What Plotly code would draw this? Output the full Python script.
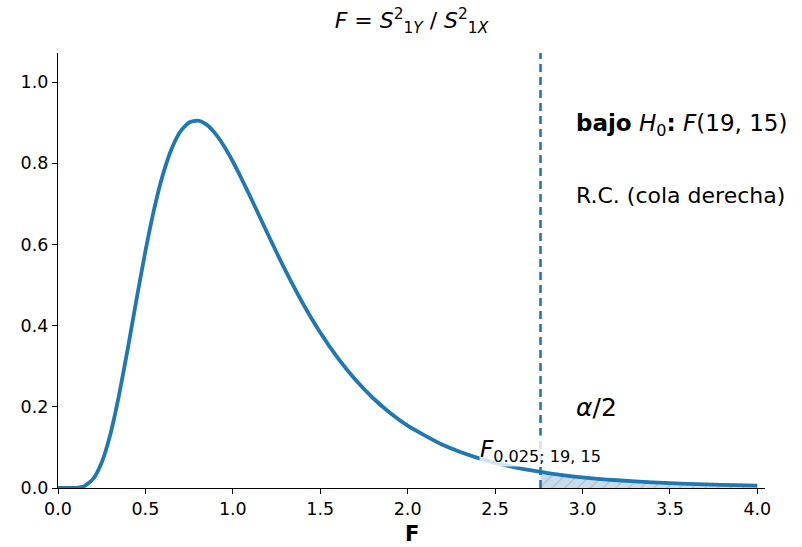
import plotly.graph_objects as go

# F(19, 15) density, sampled along the curve
f_x = [0.0, 0.05, 0.1, 0.15, 0.2, 0.25, 0.3, 0.35, 0.4, 0.45, 0.5, 0.55, 0.6, 0.65,
       0.7, 0.75, 0.8, 0.85, 0.9, 0.95, 1.0, 1.05, 1.1, 1.2, 1.3, 1.4, 1.5, 1.6, 1.7,
       1.8, 1.9, 2.0, 2.2, 2.4, 2.6, 2.76, 2.8, 3.0, 3.2, 3.4, 3.6, 3.8, 4.0]
f_y = [0.0, 0.0, 0.0004, 0.0046, 0.0218, 0.0629, 0.1333, 0.2305, 0.3455, 0.4669,
       0.5836, 0.6874, 0.7723, 0.836, 0.8786, 0.9008, 0.9054, 0.8954, 0.8734, 0.8423,
       0.8046, 0.7621, 0.7178, 0.6258, 0.5368, 0.4553, 0.3830, 0.3205, 0.2672, 0.2224,
       0.1849, 0.1538, 0.1065, 0.0742, 0.0521, 0.0395, 0.0369, 0.0264, 0.0191, 0.0139,
       0.0102, 0.0076, 0.0057]

# Critical value F_{0.025; 19, 15}
f_crit = 2.76

x_ticks = [0.0, 0.5, 1.0, 1.5, 2.0, 2.5, 3.0, 3.5, 4.0]
y_ticks = [0.0, 0.2, 0.4, 0.6, 0.8, 1.0]

blue = "#1f77b4"
font_family = "DejaVu Sans"

tail_x = [x for x in f_x if x >= f_crit]
tail_y = [y for x, y in zip(f_x, f_y) if x >= f_crit]

fig = go.Figure()

# rejection region (right tail), hatched
fig.add_trace(go.Scatter(
    x=[f_crit] + tail_x + [tail_x[-1], f_crit],
    y=[0] + tail_y + [0, 0],
    mode="lines", line=dict(width=0), fill="toself",
    fillcolor="rgba(31,119,180,0.25)",
    fillpattern=dict(shape="/", bgcolor="rgba(31,119,180,0.25)",
                     fgcolor="rgba(90,90,90,0.55)", size=9, solidity=0.12),
    hoverinfo="skip", showlegend=False,
))

# density curve
fig.add_trace(go.Scatter(
    x=f_x, y=f_y, mode="lines", line=dict(color=blue, width=3.8, shape="spline", smoothing=0.6),
    showlegend=False,
))

# critical value marker
fig.add_trace(go.Scatter(
    x=[f_crit, f_crit], y=[0, 1.072], mode="lines",
    line=dict(color=blue, width=2.6, dash="8px,5px"),
    showlegend=False,
))

annot_font = dict(family=font_family, size=22, color="black")
fig.add_annotation(x=2.95, y=0.895, xanchor="left", yanchor="middle", showarrow=False,
                   text="<b>bajo</b> <i>H</i><sub>0</sub><b>:</b> <i>F</i>(19, 15)",
                   font=dict(family=font_family, size=23, color="black"))
fig.add_annotation(x=2.95, y=0.722, xanchor="left", yanchor="middle", showarrow=False,
                   text="R.C. (cola derecha)", font=annot_font)
fig.add_annotation(x=2.95, y=0.199, xanchor="left", yanchor="middle", showarrow=False,
                   text="<i>α</i>/2", font=dict(family=font_family, size=25, color="black"))
fig.add_annotation(x=2.41, y=0.09, xanchor="left", yanchor="middle", showarrow=False,
                   text="<i>F</i><sub>0.025; 19, 15</sub>", font=dict(family=font_family, size=23, color="black"),
                   bgcolor="rgba(255,255,255,0.8)", borderpad=0)

# x-axis title, resting on the bottom edge
fig.add_annotation(x=0.5, y=-0.1356, xref="paper", yref="paper", xanchor="center", yanchor="bottom",
                   showarrow=False, text="<b>F</b>", font=dict(family=font_family, size=21, color="black"),
                   borderpad=0)

fig.update_layout(
    width=802, height=547,
    margin=dict(l=58, r=37, t=53, b=59),
    paper_bgcolor="white", plot_bgcolor="white",
    font=dict(family=font_family, size=17, color="black"),
    title=dict(
        text="<i>F</i> = <i>S</i><sup>2</sup><sub>1<i>Y</i></sub> / <i>S</i><sup>2</sup><sub>1<i>X</i></sub>",
        x=0.513, xanchor="center", y=0.963, yanchor="middle",
        font=dict(family=font_family, size=22),
    ),
    xaxis=dict(
        range=[0, 4.044], tickvals=x_ticks, ticktext=[f"{v:.1f}" for v in x_ticks],
        showgrid=False, zeroline=False, showline=True, linecolor="black", linewidth=1.2,
        ticks="outside", ticklen=5, tickwidth=1.2, tickcolor="black",
        tickfont=dict(size=17.5), automargin=False,
    ),
    yaxis=dict(
        range=[0, 1.072], tickvals=y_ticks, ticktext=[f"{v:.1f}" for v in y_ticks],
        showgrid=False, zeroline=False, showline=True, linecolor="black", linewidth=1.2,
        ticks="outside", ticklen=5, tickwidth=1.2, tickcolor="black",
        tickfont=dict(size=17.5), automargin=False,
    ),
)

fig.write_html("out.html")
